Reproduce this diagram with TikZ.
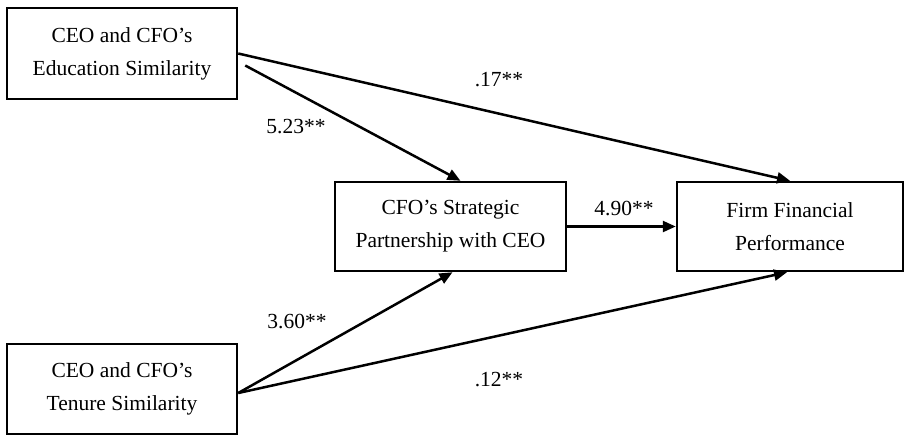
\documentclass[tikz,border=0pt]{standalone}
\usepackage{fontspec}
\setmainfont{Liberation Serif}
\usetikzlibrary{arrows.meta}

\begin{document}
\begin{tikzpicture}[x=0.5pt,y=-0.5pt,line width=1.25pt,
  varbox/.style={draw,align=center,inner sep=0pt,font=\fontsize{10.75}{16.5}\selectfont},
  coef/.style={font=\fontsize{10.75}{13}\selectfont,inner sep=0pt},
  path/.style={-{Triangle[length=6.5pt,width=5.5pt]}}]
\useasboundingbox (0,0) rectangle (905,435);
\node[varbox,minimum width=115pt,minimum height=45.5pt] (edu) at (122,53.5) {CEO and CFO's\\Education Similarity};
\node[varbox,minimum width=115pt,minimum height=45pt] (ten) at (122,389) {CEO and CFO's\\Tenure Similarity};
\node[varbox,minimum width=115.5pt,minimum height=44.5pt] (strat) at (450.5,226.5) {CFO's Strategic\\Partnership with CEO};
\node[varbox,minimum width=113pt,minimum height=44.5pt] (perf) at (790,226.5) {Firm Financial\\Performance};
\draw[path] (edu.east) -- (perf.north);
\draw[path] ([shift={(7,12)}]edu.east) -- ([xshift=5pt]strat.north);
\draw[path] ([yshift=-2pt]ten.east) -- ([xshift=1pt]strat.south);
\draw[path] ([yshift=-2pt]ten.east) -- ([xshift=-1.5pt]perf.south);
\draw[path] (strat.east) -- (perf.west);
\node[coef] (c1) at (499,80) {.17**};
\node[coef] (c2) at (296,127) {5.23**};
\node[coef] (c3) at (624,208) {4.90**};
\node[coef] (c4) at (297,321) {3.60**};
\node[coef] (c5) at (499,380) {.12**};
\end{tikzpicture}
\end{document}
